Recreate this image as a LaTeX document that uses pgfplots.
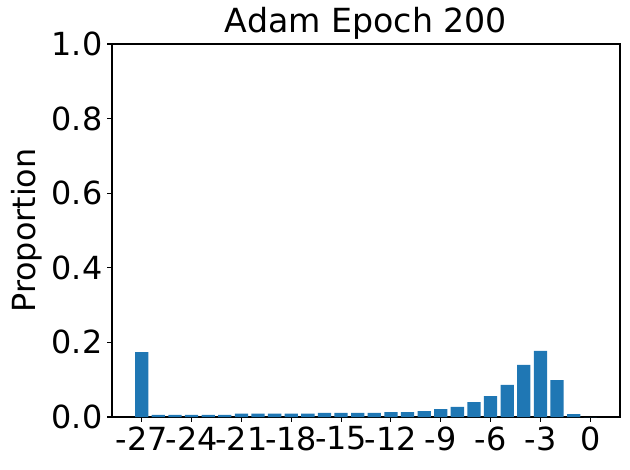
\documentclass[border=0pt]{standalone}
\usepackage{fontspec}
\setmainfont{DejaVu Sans}
\usepackage{pgfplots}
\pgfplotsset{compat=1.18}
\definecolor{mplblue}{HTML}{1F77B4}

\begin{document}
\begin{tikzpicture}
\begin{axis}[
    scale only axis,
    width=5.08in,
    height=3.73in,
    xmin=-28.79, xmax=1.79,
    ymin=0, ymax=1,
    xtick={-27,-24,...,0},
    ytick={0,0.2,...,1.0},
    yticklabel style={/pgf/number format/.cd, fixed, fixed zerofill, precision=1},
    /pgf/number format/assume math mode=true,
    tick label style={font=\fontsize{23}{27}\selectfont},
    label style={font=\fontsize{23}{27}\selectfont},
    title style={font=\fontsize{24}{28}\selectfont, yshift=-6pt},
    title={Adam Epoch 200},
    ylabel={Proportion},
    axis line style={line width=0.8pt},
    tick style={black, line width=0.8pt},
    tick align=outside,
    major tick length=3.5pt,
    xtick pos=bottom, ytick pos=left,
    ybar, bar width=0.8, bar shift=0pt,
]
\addplot[fill=mplblue, draw=none] coordinates {
(-27,0.174) (-26,0.006) (-25,0.006) (-24,0.006) (-23,0.006) (-22,0.006)
(-21,0.009) (-20,0.009) (-19,0.009) (-18,0.009) (-17,0.009)
(-16,0.011) (-15,0.011) (-14,0.011) (-13,0.011)
(-12,0.013) (-11,0.013) (-10,0.016) (-9,0.021) (-8,0.027)
(-7,0.040) (-6,0.056) (-5,0.086) (-4,0.140) (-3,0.177) (-2,0.099) (-1,0.008) (0,0)
};
\end{axis}
\path (current axis.south west) ++(-1.12in,-0.53in) (current axis.north east) ++(0.1in,0.44in);
\end{tikzpicture}
\end{document}
